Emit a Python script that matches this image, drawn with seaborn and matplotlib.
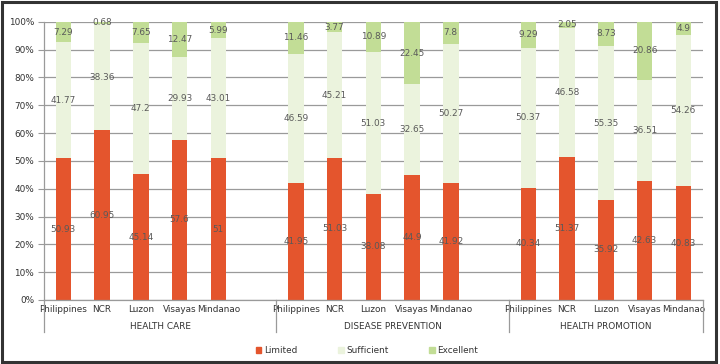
import numpy as np
import pandas as pd
import seaborn as sns
import matplotlib.pyplot as plt
from matplotlib.patches import Rectangle
from matplotlib.lines import Line2D

# data (percent)
groups = ['HEALTH CARE', 'DISEASE PREVENTION', 'HEALTH PROMOTION']
regions = ['Philippines', 'NCR', 'Luzon', 'Visayas', 'Mindanao']
limited = [50.93, 60.95, 45.14, 57.6, 51,
           41.95, 51.03, 38.08, 44.9, 41.92,
           40.34, 51.37, 35.92, 42.63, 40.83]
sufficient = [41.77, 38.36, 47.2, 29.93, 43.01,
              46.59, 45.21, 51.03, 32.65, 50.27,
              50.37, 46.58, 55.35, 36.51, 54.26]
excellent = [7.29, 0.68, 7.65, 12.47, 5.99,
             11.46, 3.77, 10.89, 22.45, 7.8,
             9.29, 2.05, 8.73, 20.86, 4.9]

c_lim = '#E4552D'
c_suf = '#EBF3DD'
c_exc = '#C2DD96'
txt = '#595959'
fs = 6.4

# slot order with an empty slot between groups
order = []
for gi, g in enumerate(groups):
    order += [g + '|' + r for r in regions]
    if gi < len(groups) - 1:
        order.append('gap%d' % gi)

df = pd.DataFrame({
    'key': [g + '|' + r for g in groups for r in regions],
    'Limited': limited,
    'Sufficient': sufficient,
    'Excellent': excellent,
})
df['top_suf'] = df['Limited'] + df['Sufficient']
df['top_exc'] = df['top_suf'] + df['Excellent']

plt.rcParams['font.family'] = ['DejaVu Sans']
fig = plt.figure(figsize=(7.2, 3.64), dpi=100)
ax = fig.add_axes([0.061, 0.176, 0.915, 0.764])

w = 0.4
sns.barplot(data=df, x='key', y='top_exc', order=order, color=c_exc,
            width=w, saturation=1, ax=ax, errorbar=None)
sns.barplot(data=df, x='key', y='top_suf', order=order, color=c_suf,
            width=w, saturation=1, ax=ax, errorbar=None)
sns.barplot(data=df, x='key', y='Limited', order=order, color=c_lim,
            width=w, saturation=1, ax=ax, errorbar=None)

# value labels centred in each segment
pos = {k: i for i, k in enumerate(order)}
for _, row in df.iterrows():
    x = pos[row['key']]
    ax.text(x, row['Limited'] / 2, '%g' % row['Limited'], ha='center',
            va='center', fontsize=fs, color=txt)
    ax.text(x, row['Limited'] + row['Sufficient'] / 2, '%g' % row['Sufficient'],
            ha='center', va='center', fontsize=fs, color=txt)
    ax.text(x, row['top_suf'] + row['Excellent'] / 2, '%g' % row['Excellent'],
            ha='center', va='center', fontsize=fs, color=txt)

ax.set_ylim(0, 100)
ax.set_xlim(-0.5, len(order) - 0.5)
ax.set_yticks(np.arange(0, 101, 10))
ax.set_yticklabels(['%d%%' % v for v in range(0, 101, 10)])
ax.yaxis.grid(True, color='#9a9a9a', linewidth=0.9)
ax.set_axisbelow(True)
ax.tick_params(axis='y', length=4, color='#9a9a9a', labelsize=fs,
               labelcolor='#333333', pad=3)
ax.set_xticks([pos[k] for k in df['key']])
ax.set_xticklabels([k.split('|')[1] for k in df['key']])
ax.tick_params(axis='x', length=0, labelsize=fs, labelcolor='#333333', pad=4)
ax.set_xlabel('')
ax.set_ylabel('')
for s in ['top', 'right']:
    ax.spines[s].set_visible(False)
for s in ['left', 'bottom']:
    ax.spines[s].set_color('#9a9a9a')
    ax.spines[s].set_linewidth(0.9)

# group separators and group labels below the axis
trans = ax.get_xaxis_transform()
bounds = [-0.5, 5.5, 11.5, 16.5]
for b in bounds:
    ax.add_line(Line2D([b, b], [0, -0.117], transform=trans, color='#9a9a9a',
                       linewidth=0.9, clip_on=False))
for gi, g in enumerate(groups):
    ax.text((bounds[gi] + bounds[gi + 1]) / 2, -0.094, g, transform=trans,
            ha='center', va='center', fontsize=fs, color='#333333')

# legend
handles = [Rectangle((0, 0), 1, 1, color=c) for c in (c_lim, c_suf, c_exc)]
fig.legend(handles, ['Limited', 'Sufficient', 'Excellent'], loc='center',
           bbox_to_anchor=(0.51, 0.037), ncol=3, frameon=False, fontsize=fs,
           handlelength=0.6, handleheight=0.6, handletextpad=0.3,
           columnspacing=4.6, labelcolor='#333333')

# outer frame
fig.add_artist(Rectangle((0.003, 0.005), 0.992, 0.99, transform=fig.transFigure,
                         fill=False, edgecolor='#333333', linewidth=2.2))

fig.savefig('out.png', dpi=100)
